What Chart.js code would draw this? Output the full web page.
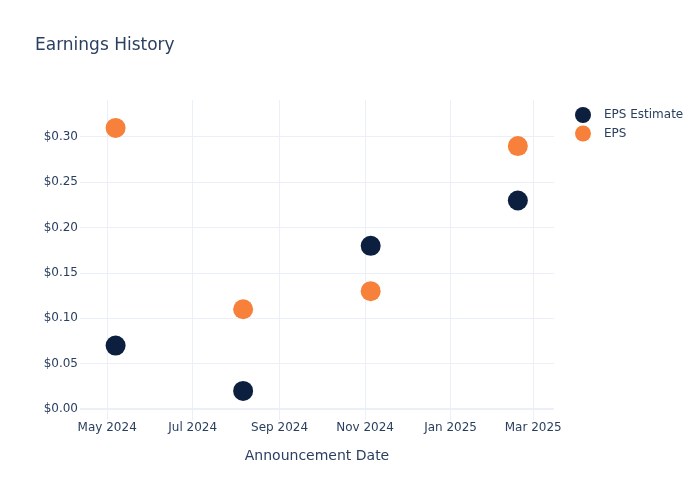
<!DOCTYPE html>
<html>
<head>
<meta charset="utf-8">
<script src="https://cdn.jsdelivr.net/npm/chart.js@4"></script>
<style>
html,body{margin:0;padding:0;background:#fff;}
#wrap{width:700px;height:500px;}
</style>
</head>
<body>
<div id="wrap"><canvas id="c" width="700" height="500"></canvas></div>
<script>
const dates = ['2024-05-07', '2024-08-06', '2024-11-05', '2025-02-18'];
const epsEstimate = [0.07, 0.02, 0.18, 0.23];
const eps = [0.31, 0.11, 0.13, 0.29];
const xTickDates = ['2024-05-01', '2024-07-01', '2024-09-01', '2024-11-01', '2025-01-01', '2025-03-01'];
const yTicks = [0, 0.05, 0.10, 0.15, 0.20, 0.25, 0.30];
const seriesNames = ['EPS Estimate', 'EPS'];
const seriesColors = ['#0c1f3f', '#f7803a'];

const MONTHS = ['Jan','Feb','Mar','Apr','May','Jun','Jul','Aug','Sep','Oct','Nov','Dec'];
function ts(s){ const p = s.split('-').map(Number); return Date.UTC(p[0], p[1]-1, p[2]); }
function fmtDate(v){ const d = new Date(v); return MONTHS[d.getUTCMonth()] + ' ' + d.getUTCFullYear(); }

const FONT = '"DejaVu Sans", "Open Sans", sans-serif';
const TXT = '#2a3f5f';
const GRID = '#ebf0f8';

const xMin = ts('2024-04-11') + 0.6*86400000;
const xMax = ts('2025-03-15') + 0.8*86400000;

const overlay = {
  id: 'overlay',
  afterDraw(chart) {
    const ctx = chart.ctx;
    ctx.save();
    ctx.fillStyle = TXT;
    ctx.font = '17px ' + FONT;
    ctx.textBaseline = 'alphabetic';
    ctx.textAlign = 'left';
    ctx.fillText('Earnings History', 35, 50);
    ctx.font = '12px ' + FONT;
    ctx.textBaseline = 'middle';
    chart.data.datasets.forEach((ds, i) => {
      const y = 115 + i * 18.5;
      ctx.fillStyle = ds.backgroundColor;
      ctx.beginPath();
      ctx.arc(583, y, 8, 0, Math.PI * 2);
      ctx.fill();
      ctx.fillStyle = TXT;
      ctx.fillText(ds.label, 604, y);
    });
    ctx.restore();
  }
};

new Chart(document.getElementById('c'), {
  type: 'scatter',
  data: {
    datasets: [
      { label: seriesNames[0], data: dates.map((d, i) => ({x: ts(d), y: epsEstimate[i]})),
        backgroundColor: seriesColors[0], borderColor: seriesColors[0], pointRadius: 10, pointHoverRadius: 10, borderWidth: 0 },
      { label: seriesNames[1], data: dates.map((d, i) => ({x: ts(d), y: eps[i]})),
        backgroundColor: seriesColors[1], borderColor: seriesColors[1], pointRadius: 10, pointHoverRadius: 10, borderWidth: 0 }
    ]
  },
  options: {
    responsive: false,
    animation: false,
    devicePixelRatio: 1,
    layout: { padding: { left: 0, right: 146, top: 100, bottom: 0 } },
    plugins: { legend: { display: false }, tooltip: { enabled: false }, title: { display: false } },
    scales: {
      x: {
        type: 'linear',
        min: xMin, max: xMax,
        afterBuildTicks(scale) { scale.ticks = xTickDates.map(d => ({ value: ts(d) })); },
        afterFit(scale) { scale.height = 80; },
        ticks: { color: TXT, font: { family: FONT, size: 12 }, padding: 1, maxRotation: 0, autoSkip: false,
          callback: v => fmtDate(v) },
        grid: { color: GRID, lineWidth: 1, drawTicks: false },
        border: { display: false },
        title: { display: true, text: 'Announcement Date', color: TXT, font: { family: FONT, size: 14 },
          padding: { top: 0, bottom: 35 } }
      },
      y: {
        type: 'linear',
        min: -0.0121, max: 0.3408,
        afterBuildTicks(scale) { scale.ticks = yTicks.map(v => ({ value: v })); },
        afterFit(scale) { scale.width = 80; },
        ticks: { color: TXT, font: { family: FONT, size: 12 }, padding: 2,
          callback: v => '$' + Number(v).toFixed(2) },
        grid: { color: GRID, lineWidth: ctx => (ctx.tick && Math.abs(ctx.tick.value) < 1e-9 ? 2 : 1), drawTicks: false },
        border: { display: false }
      }
    }
  },
  plugins: [overlay]
});
</script>
</body>
</html>
